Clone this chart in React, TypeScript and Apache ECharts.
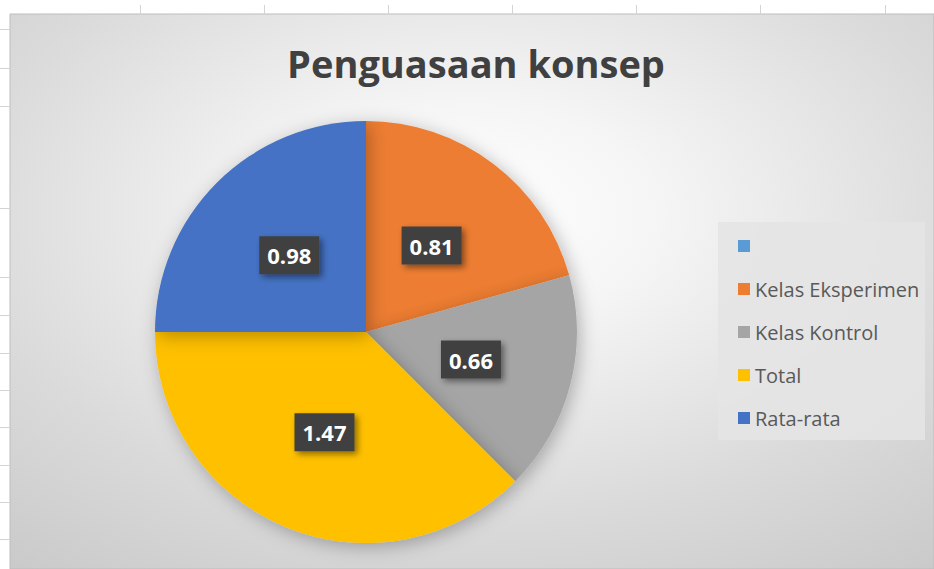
import React, { useEffect, useRef } from "react";
import * as echarts from "echarts";

const titleText = "Penguasaan konsep";
const categories = [" ", "Kelas Eksperimen", "Kelas Kontrol", "Total", "Rata-rata"];
const values = [0, 0.81, 0.66, 1.47, 0.98];
const colors = ["#5B9BD5", "#ED7D31", "#A5A5A5", "#FFC000", "#4472C4"];
const sheetColLines = [140, 264, 388, 512, 636, 760, 885];
const sheetRowLines = [29, 68, 106, 208, 277, 315, 353, 390, 427, 465, 502, 539];

export default function App() {
  const ref = useRef<HTMLDivElement>(null);
  useEffect(() => {
    if (!ref.current) return;
    const chart = echarts.init(ref.current, undefined, { renderer: "svg" });
    const graphics: any[] = [];
    sheetColLines.forEach((x) =>
      graphics.push({
        type: "line",
        z: 0,
        shape: { x1: x + 0.5, y1: 5, x2: x + 0.5, y2: 14 },
        style: { stroke: "#d4d4d4", lineWidth: 1 },
      })
    );
    sheetRowLines.forEach((y) =>
      graphics.push({
        type: "line",
        z: 0,
        shape: { x1: 0, y1: y + 0.5, x2: 10, y2: y + 0.5 },
        style: { stroke: "#d4d4d4", lineWidth: 1 },
      })
    );
    graphics.push({
      type: "rect",
      z: -10,
      shape: { x: 10, y: 14, width: 924, height: 555 },
      style: {
        fill: new echarts.graphic.RadialGradient(0.5, 0.36, 0.92, [
          { offset: 0, color: "#ffffff" },
          { offset: 0.22, color: "#f5f5f5" },
          { offset: 0.6, color: "#dadada" },
          { offset: 1, color: "#c3c3c3" },
        ]),
        stroke: "#bdbdbd",
        lineWidth: 1,
      },
    });
    graphics.push({
      type: "rect",
      z: -5,
      shape: { x: 718, y: 222, width: 207, height: 218 },
      style: { fill: "rgba(228,228,228,0.9)" },
    });
    graphics.push({
      type: "text",
      z: 10,
      x: 476,
      y: 63,
      style: {
        text: titleText,
        fontFamily: "Open Sans",
        fontWeight: "bold",
        fontSize: 38,
        fill: "#404040",
        textAlign: "center",
        textVerticalAlign: "middle",
      },
    });

    chart.setOption({
      animation: false,
      color: colors,
      graphic: graphics,
      legend: {
        orient: "vertical",
        left: 733,
        top: 231,
        itemWidth: 12,
        itemHeight: 12,
        itemGap: 23,
        icon: "rect",
        data: categories,
        textStyle: {
          fontFamily: "Open Sans",
          fontSize: 20,
          lineHeight: 20,
          height: 20,
          color: "#595959",
        },
      },
      series: [
        {
          type: "pie",
          center: [366, 332],
          radius: [0, 211],
          startAngle: 90,
          clockwise: true,
          avoidLabelOverlap: false,
          itemStyle: {
            borderWidth: 0,
            shadowBlur: 18,
            shadowColor: "rgba(0,0,0,0.28)",
            shadowOffsetX: 3,
            shadowOffsetY: 4,
          },
          label: {
            show: true,
            position: "inside",
            formatter: (p: any) => p.value.toFixed(2),
            color: "#ffffff",
            fontFamily: "Open Sans",
            fontWeight: "bold",
            fontSize: 22,
            lineHeight: 22,
            backgroundColor: "#404040",
            padding: [8, 8],
            shadowBlur: 6,
            shadowColor: "rgba(0,0,0,0.45)",
            shadowOffsetX: 3,
            shadowOffsetY: 3,
          },
          labelLine: { show: false },
          emphasis: { disabled: true },
          data: categories.map((name, i) => ({
            name,
            value: values[i],
            label: values[i] === 0 ? { show: false } : undefined,
          })),
        },
      ],
    });
    return () => chart.dispose();
  }, []);
  return (
    <div
      ref={ref}
      style={{ position: "absolute", left: 0, top: 0, width: 934, height: 569, background: "#ffffff" }}
    />
  );
}
